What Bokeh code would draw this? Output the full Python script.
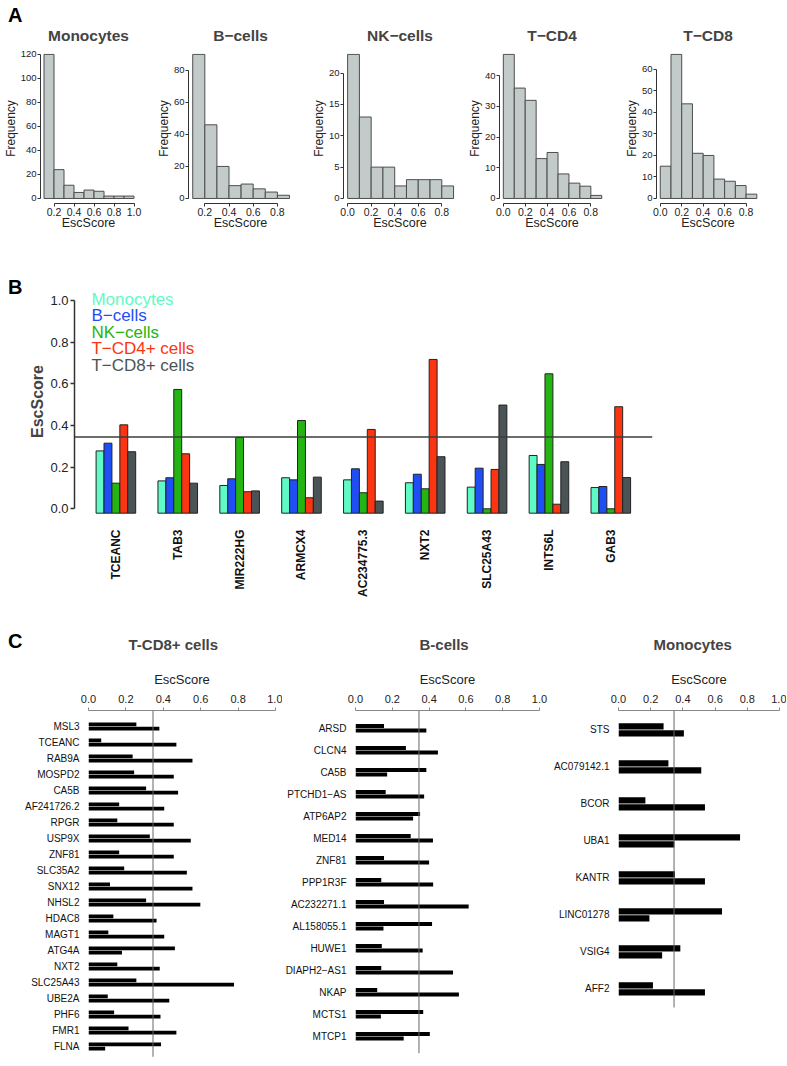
import math
from bokeh.plotting import figure
from bokeh.layouts import column, row
from bokeh.models import Range1d, FixedTicker, PrintfTickFormatter, Span, Label, Div
from bokeh.embed import file_html
from bokeh.resources import INLINE

FONT = "Liberation Sans"

# ---------------- Panel A data ----------------
hist_titles = ["Monocytes", "B\u2212cells", "NK\u2212cells", "T\u2212CD4", "T\u2212CD8"]
hist_first_edge = [0.1, 0.1, 0.0, 0.0, 0.0]
hist_bin_width = 0.1
monocyte_counts = [120, 24, 11, 5, 7, 6, 2, 2, 2]
bcell_counts = [90, 46, 20, 8, 9, 6, 4, 2]
nkcell_counts = [23, 13, 5, 5, 2, 3, 3, 3, 2]
tcd4_counts = [47, 36, 32, 13, 15, 8, 5, 4, 1]
tcd8_counts = [15, 67, 44, 21, 20, 9, 8, 6, 2]
hist_counts = [monocyte_counts, bcell_counts, nkcell_counts, tcd4_counts, tcd8_counts]
hist_y_ticks = [[0, 20, 40, 60, 80, 100, 120], [0, 20, 40, 60, 80], [0, 5, 10, 15, 20],
                [0, 10, 20, 30, 40], [0, 10, 20, 30, 40, 50, 60]]
hist_x_ticks = [[0.2, 0.4, 0.6, 0.8, 1.0], [0.2, 0.4, 0.6, 0.8], [0.0, 0.2, 0.4, 0.6, 0.8],
                [0.0, 0.2, 0.4, 0.6, 0.8], [0.0, 0.2, 0.4, 0.6, 0.8]]

# ---------------- Panel B data ----------------
b_genes = ["TCEANC", "TAB3", "MIR222HG", "ARMCX4", "AC234775.3", "NXT2", "SLC25A43", "INTS6L", "GAB3"]
b_series = ["Monocytes", "B\u2212cells", "NK\u2212cells", "T\u2212CD4+ cells", "T\u2212CD8+ cells"]
b_monocytes = [0.278, 0.134, 0.112, 0.149, 0.139, 0.125, 0.104, 0.256, 0.102]
b_bcells = [0.315, 0.149, 0.144, 0.139, 0.192, 0.166, 0.195, 0.213, 0.107]
b_nkcells = [0.123, 0.573, 0.342, 0.424, 0.077, 0.096, 0.0, 0.648, 0.0]
b_tcd4 = [0.403, 0.264, 0.082, 0.053, 0.381, 0.717, 0.189, 0.022, 0.490]
b_tcd8 = [0.274, 0.123, 0.086, 0.152, 0.037, 0.250, 0.498, 0.226, 0.150]
b_y_ticks = [0.0, 0.2, 0.4, 0.6, 0.8, 1.0]
esc_threshold = 0.345

# ---------------- Panel C data ----------------
c_tcd8_genes = ["MSL3", "TCEANC", "RAB9A", "MOSPD2", "CA5B", "AF241726.2", "RPGR", "USP9X", "ZNF81",
                "SLC35A2", "SNX12", "NHSL2", "HDAC8", "MAGT1", "ATG4A", "NXT2", "SLC25A43", "UBE2A",
                "PHF6", "FMR1", "FLNA"]
c_tcd8_upper = [0.256, 0.068, 0.236, 0.244, 0.308, 0.164, 0.154, 0.328, 0.164, 0.191, 0.115, 0.308,
                0.133, 0.106, 0.462, 0.154, 0.256, 0.103, 0.137, 0.214, 0.388]
c_tcd8_lower = [0.379, 0.470, 0.556, 0.456, 0.479, 0.405, 0.456, 0.547, 0.456, 0.526, 0.556, 0.598,
                0.364, 0.405, 0.179, 0.381, 0.778, 0.432, 0.385, 0.470, 0.089]

c_bcell_genes = ["ARSD", "CLCN4", "CA5B", "PTCHD1\u2212AS", "ATP6AP2", "MED14", "ZNF81", "PPP1R3F",
                 "AC232271.1", "AL158055.1", "HUWE1", "DIAPH2\u2212AS1", "NKAP", "MCTS1", "MTCP1"]
c_bcell_upper = [0.155, 0.274, 0.385, 0.164, 0.351, 0.300, 0.155, 0.140, 0.155, 0.416, 0.143, 0.140,
                 0.118, 0.368, 0.404]
c_bcell_lower = [0.385, 0.448, 0.172, 0.373, 0.313, 0.421, 0.400, 0.422, 0.615, 0.152, 0.365, 0.530,
                 0.562, 0.138, 0.262]

c_mono_genes = ["STS", "AC079142.1", "BCOR", "UBA1", "KANTR", "LINC01278", "VSIG4", "AFF2"]
c_mono_upper = [0.280, 0.310, 0.167, 0.755, 0.351, 0.643, 0.384, 0.214]
c_mono_lower = [0.406, 0.514, 0.537, 0.347, 0.537, 0.192, 0.271, 0.537]

c_x_ticks = [0.0, 0.2, 0.4, 0.6, 0.8, 1.0]

# ---------------- styles ----------------
HIST_FILL = "#c3cbca"
HIST_LINE = "#4d4d4d"
B_COLORS = ["#5ffbc6", "#1f4ef5", "#25b512", "#fb3512", "#4a5457"]
AXIS_COL = "#333333"
PAGE_W = 786


def base_style(p):
    p.xgrid.visible = False
    p.ygrid.visible = False
    p.outline_line_color = None
    p.background_fill_color = "white"
    p.border_fill_color = "white"


def px_x(px, rng, frame_left, frame_w):
    return rng.start + (px - frame_left) * (rng.end - rng.start) / frame_w


def px_y(py, rng, frame_top, frame_h):
    return rng.end - (py - frame_top) * (rng.end - rng.start) / frame_h


def letter_div(txt, width, height, pad_top, pad_left=8):
    html = ('<div style="font-family:\'Liberation Sans\',Arial,sans-serif;font-weight:bold;'
            'font-size:20px;line-height:20px;padding-top:%dpx;padding-left:%dpx;color:#000;'
            'overflow:visible;white-space:nowrap;">%s</div>'
            % (pad_top, pad_left, txt))
    return Div(text=html, width=width, height=height, margin=(0, 0, 0, 0),
               styles={"overflow": "visible", "z-index": "1"})


# ---------------- Panel A ----------------
A_DIV_H = 10                   # the letter overflows into the transparent top border below
A_H, A_BT, A_BB = 267, 43, 74  # histogram frames at y 53 .. 203
hist_widths = [153, 155, 156, 157, 165]
hist_bl = [34, 30, 30, 30, 30]
hist_br = [17, 16, 8, 17, 27]
hist_figs = []
for k in range(5):
    counts = hist_counts[k]
    left = [hist_first_edge[k] + i * hist_bin_width for i in range(len(counts))]
    right = [l + hist_bin_width for l in left]
    ymax = max(counts)
    p = figure(width=hist_widths[k], height=A_H, output_backend="svg", toolbar_location=None,
               x_range=Range1d(left[0] - 0.035, right[-1] + 0.025),
               y_range=Range1d(-ymax * 0.035, ymax * 1.006),
               min_border_left=hist_bl[k], min_border_right=hist_br[k],
               min_border_top=A_BT, min_border_bottom=A_BB, title=hist_titles[k])
    base_style(p)
    p.border_fill_alpha = 0
    p.quad(left=left, right=right, bottom=0, top=counts, fill_color=HIST_FILL,
           line_color=HIST_LINE, line_width=1)
    p.title.align = "center"
    p.title.text_font = FONT
    p.title.text_font_size = "15.5px"
    p.title.text_font_style = "bold"
    p.title.standoff = 20
    for ax in (p.xaxis[0], p.yaxis[0]):
        ax.axis_line_color = AXIS_COL
        ax.major_tick_line_color = AXIS_COL
        ax.minor_tick_line_color = None
        ax.major_tick_out = 3
        ax.major_tick_in = 0
        ax.major_label_text_font = FONT
        ax.major_label_text_color = "#222222"
        ax.axis_label_text_font = FONT
        ax.axis_label_text_font_size = "12.5px"
        ax.axis_label_text_font_style = "normal"
        ax.axis_label_text_color = "#222222"
        ax.major_label_standoff = 1
        ax.axis_label_standoff = 1
    p.xaxis.ticker = FixedTicker(ticks=hist_x_ticks[k])
    p.xaxis.bounds = (hist_x_ticks[k][0], hist_x_ticks[k][-1])
    p.xaxis.formatter = PrintfTickFormatter(format="%.1f")
    p.xaxis.axis_label = "EscScore"
    p.xaxis.major_label_text_font_size = "10.5px"
    p.xaxis.axis_label_standoff = -3
    p.yaxis.ticker = FixedTicker(ticks=hist_y_ticks[k])
    p.yaxis.bounds = (0, hist_y_ticks[k][-1])
    p.yaxis.formatter = PrintfTickFormatter(format="%d")
    p.yaxis.axis_label = "Frequency"
    p.yaxis.major_label_text_font_size = "9.5px"
    p.yaxis.axis_label_text_font_size = "12px"
    p.yaxis.axis_label_standoff = 0
    hist_figs.append(p)

# ---------------- Panel B ----------------
B_DIV_W = 26
B_H = 341                      # figure spans y 277 .. 618
B_W = PAGE_W - B_DIV_W
B_BL, B_BR, B_BT, B_BB = 44, 134, 10, 103
B_FW = B_W - B_BL - B_BR       # 582 px
B_FH = B_H - B_BT - B_BB       # 228 px
Y0_PX, Y1_PX = 231.3, 23.0     # pixel rows (from figure top) of EscScore 0.0 and 1.0
b_unit = Y0_PX - Y1_PX
n_groups = len(b_genes)
bar_w = 0.128
B_BASE = -0.021
pB = figure(width=B_W, height=B_H, output_backend="svg", toolbar_location=None,
            x_range=Range1d(-0.669, 8.674),
            y_range=Range1d(-(B_BT + B_FH - Y0_PX) / b_unit, (Y0_PX - B_BT) / b_unit),
            min_border_left=B_BL, min_border_right=B_BR, min_border_top=B_BT, min_border_bottom=B_BB)
base_style(pB)
b_values = [b_monocytes, b_bcells, b_nkcells, b_tcd4, b_tcd8]
for j, (vals, col) in enumerate(zip(b_values, B_COLORS)):
    xs = [g + (j - 2) * bar_w for g in range(n_groups)]
    pB.vbar(x=xs, top=vals, bottom=B_BASE, width=bar_w, fill_color=col,
            line_color="#222222", line_width=1)
pB.add_layout(Span(location=esc_threshold, dimension="width", line_color="#3c3c3c", line_width=1.5))
for j, (name, col) in enumerate(zip(b_series, B_COLORS)):
    pB.add_layout(Label(x=px_x(87 - B_DIV_W, pB.x_range, B_BL, B_FW),
                        y=px_y(21.5 + 16.6 * j, pB.y_range, B_BT, B_FH),
                        text=name, text_color=col, text_font=FONT,
                        text_font_size="17px", text_baseline="middle", text_align="left"))
ya = pB.yaxis[0]
ya.ticker = FixedTicker(ticks=b_y_ticks)
ya.bounds = (0, 1)
ya.formatter = PrintfTickFormatter(format="%.1f")
ya.axis_line_color = AXIS_COL
ya.axis_line_width = 1.5
ya.major_tick_line_color = AXIS_COL
ya.major_tick_line_width = 1.5
ya.minor_tick_line_color = None
ya.major_tick_out = 4
ya.major_tick_in = 0
ya.major_label_text_font = FONT
ya.major_label_text_font_size = "13px"
ya.major_label_text_color = "#222222"
ya.major_label_standoff = 2
ya.axis_label = "EscScore"
ya.axis_label_text_font = FONT
ya.axis_label_text_font_size = "16px"
ya.axis_label_text_font_style = "bold"
ya.axis_label_standoff = 1
xa = pB.xaxis[0]
xa.ticker = FixedTicker(ticks=list(range(n_groups)))
xa.major_label_overrides = {i: g for i, g in enumerate(b_genes)}
xa.major_label_orientation = math.pi / 2
xa.axis_line_color = None
xa.major_tick_line_color = None
xa.minor_tick_line_color = None
xa.major_label_text_font = FONT
xa.major_label_text_font_size = "12px"
xa.major_label_text_font_style = "bold"
xa.major_label_text_color = "#111111"
xa.major_label_standoff = 8

# ---------------- Panel C ----------------
C_DIV_W = 22
C_H, C_BT, C_BB = 442, 92, 3   # figure spans y 618 .. 1060, frame 710 .. 1057
C_FH = C_H - C_BT - C_BB


def c_panel(title, title_offset, genes, upper, lower, width, bl, br, spacing_px, top_pad_px,
            bottom_pad_px, bar_px):
    n = len(genes)
    rows_total = C_FH / spacing_px
    top_pad = top_pad_px / spacing_px
    p = figure(width=width, height=C_H, output_backend="svg", toolbar_location=None,
               x_range=Range1d(0, 1.0), y_range=Range1d(rows_total - top_pad, -top_pad),
               x_axis_location="above", min_border_left=bl, min_border_right=br,
               min_border_top=C_BT, min_border_bottom=C_BB, title=title)
    base_style(p)
    h = bar_px / spacing_px
    idx = list(range(n))
    p.hbar(y=[i - h / 2 for i in idx], left=0, right=upper, height=h * 0.9,
           fill_color="black", line_color=None)
    p.hbar(y=[i + h / 2 for i in idx], left=0, right=lower, height=h * 0.9,
           fill_color="black", line_color=None)
    p.segment(x0=[esc_threshold], y0=[-top_pad], x1=[esc_threshold],
              y1=[n - 1 + bottom_pad_px / spacing_px], line_color="#666666", line_width=1)
    p.title.align = "left"
    p.title.offset = title_offset
    p.title.text_font = FONT
    p.title.text_font_size = "15px"
    p.title.text_font_style = "bold"
    p.title.standoff = 31
    xa = p.xaxis[0]
    xa.ticker = FixedTicker(ticks=c_x_ticks)
    xa.bounds = (0, 1)
    xa.formatter = PrintfTickFormatter(format="%.1f")
    xa.axis_line_color = "#888888"
    xa.major_tick_line_color = "#888888"
    xa.minor_tick_line_color = None
    xa.major_tick_out = 3
    xa.major_tick_in = 0
    xa.major_label_text_font = FONT
    xa.major_label_text_font_size = "11px"
    xa.major_label_text_color = "#222222"
    xa.major_label_standoff = 5
    xa.axis_label = "EscScore"
    xa.axis_label_text_font = FONT
    xa.axis_label_text_font_size = "13px"
    xa.axis_label_text_font_style = "normal"
    xa.axis_label_text_color = "#222222"
    xa.axis_label_standoff = 5
    ya = p.yaxis[0]
    ya.ticker = FixedTicker(ticks=idx)
    ya.major_label_overrides = {i: g for i, g in enumerate(genes)}
    ya.axis_line_color = None
    ya.major_tick_line_color = None
    ya.minor_tick_line_color = None
    ya.major_label_text_font = FONT
    ya.major_label_text_font_size = "10px"
    ya.major_label_text_color = "#111111"
    ya.major_label_standoff = 3
    return p


pC1 = c_panel("T-CD8+ cells", 40, c_tcd8_genes, c_tcd8_upper, c_tcd8_lower,
              width=260, bl=58, br=7, spacing_px=16, top_pad_px=16, bottom_pad_px=10.3, bar_px=4.2)
pC2 = c_panel("B-cells", 64, c_bcell_genes, c_bcell_upper, c_bcell_lower,
              width=266, bl=62, br=9, spacing_px=22, top_pad_px=17.7, bottom_pad_px=17, bar_px=4.4)
pC3 = c_panel("Monocytes", 35, c_mono_genes, c_mono_upper, c_mono_lower,
              width=238, bl=70, br=7, spacing_px=37, top_pad_px=19.3, bottom_pad_px=18.7, bar_px=7.0)

layout = column(
    letter_div("A", PAGE_W, A_DIV_H, 5),
    row(*hist_figs),
    row(letter_div("B", B_DIV_W, B_H, 0), pB),
    row(letter_div("C", C_DIV_W, C_H, 13), pC1, pC2, pC3),
)

open("out.html", "w").write(file_html(layout, INLINE, "EscScore figure"))
